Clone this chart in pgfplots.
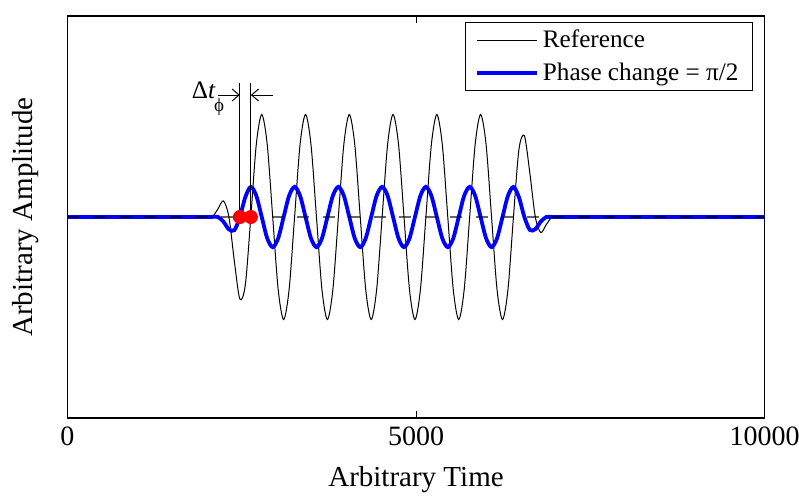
\documentclass[border=0pt]{standalone}
\usepackage{fontspec}
\setmainfont{Liberation Serif}
\usepackage{pgfplots}
\pgfplotsset{compat=1.18}
\usetikzlibrary{arrows.meta}

\begin{document}
\begin{tikzpicture}
\begin{axis}[
  at={(0,0)}, anchor=south west,
  scale only axis, width=348.5pt, height=201pt,
  xmin=0, xmax=10000, ymin=-1, ymax=1,
  xtick={0,5000,10000}, ytick=\empty,
  scaled x ticks=false,
  tick align=inside, major tick length=3.5pt,
  axis line style={line width=0.6pt},
  every tick/.style={black, line width=0.5pt},
  /pgf/number format/assume math mode=true,
  /pgf/number format/set thousands separator={},
  ticklabel style={font=\fontsize{14}{16}\selectfont},
  xticklabel style={yshift=-1pt},
  label style={font=\fontsize{14.5}{16}\selectfont},
  xlabel={Arbitrary Time}, ylabel={Arbitrary Amplitude},
  xlabel style={at={(axis description cs:0.5,-0.1716)}, anchor=base},
  ylabel style={at={(axis description cs:-0.0495,0.5)}, anchor=base},
  legend style={at={(1,1)}, anchor=north east, xshift=-5.75pt, yshift=-3pt,
    draw=black, line width=0.5pt, font=\fontsize{12.6}{14}\selectfont,
    inner xsep=5pt, inner ysep=1.8pt, row sep=2pt, nodes={inner sep=2pt},
    cells={anchor=west}},
  legend image code/.code={\draw[#1] (0pt,0pt) -- (30pt,0pt);},
]
% reference burst
\addplot[black, line width=0.5pt, smooth] coordinates {
(0,0) (1923.5,0) (2002,0)
(2080.5,0.0023) (2159,0.0404) (2237.5,0.0801) (2316,0) (2394.5,-0.2220) (2473,-0.4083) (2551.5,-0.3371) (2630,0)
(2708.5,0.3606) (2787,0.51) (2865.5,0.3606) (2944,0) (3022.5,-0.3606) (3101,-0.51) (3179.5,-0.3606) (3258,0)
(3336.5,0.3606) (3415,0.51) (3493.5,0.3606) (3572,0) (3650.5,-0.3606) (3729,-0.51) (3807.5,-0.3606) (3886,0)
(3964.5,0.3606) (4043,0.51) (4121.5,0.3606) (4200,0) (4278.5,-0.3606) (4357,-0.51) (4435.5,-0.3606) (4514,0)
(4592.5,0.3606) (4671,0.51) (4749.5,0.3606) (4828,0) (4906.5,-0.3606) (4985,-0.51) (5063.5,-0.3606) (5142,0)
(5220.5,0.3606) (5299,0.51) (5377.5,0.3606) (5456,0) (5534.5,-0.3606) (5613,-0.51) (5691.5,-0.3606) (5770,0)
(5848.5,0.3606) (5927,0.51) (6005.5,0.3606) (6084,0) (6162.5,-0.3606) (6241,-0.51) (6319.5,-0.3606) (6398,0)
(6476.5,0.3353) (6555,0.4038) (6633.5,0.2183) (6712,0) (6790.5,-0.0771) (6869,-0.0376) (6947.5,-0.0017)
(7026,0) (7104.5,0) (10000,0)
};
\addlegendentry{Reference}
% phase shifted burst
\addplot[blue, line width=1.9pt, smooth] coordinates {
(0,0) (1923.5,0) (2002,0)
(2080.5,0.0007) (2159,0) (2237.5,-0.0236) (2316,-0.0617) (2394.5,-0.0653) (2473,0) (2551.5,0.0992) (2630,0.1496)
(2708.5,0.1061) (2787,0) (2865.5,-0.1061) (2944,-0.15) (3022.5,-0.1061) (3101,0) (3179.5,0.1061) (3258,0.15)
(3336.5,0.1061) (3415,0) (3493.5,-0.1061) (3572,-0.15) (3650.5,-0.1061) (3729,0) (3807.5,0.1061) (3886,0.15)
(3964.5,0.1061) (4043,0) (4121.5,-0.1061) (4200,-0.15) (4278.5,-0.1061) (4357,0) (4435.5,0.1061) (4514,0.15)
(4592.5,0.1061) (4671,0) (4749.5,-0.1061) (4828,-0.15) (4906.5,-0.1061) (4985,0) (5063.5,0.1061) (5142,0.15)
(5220.5,0.1061) (5299,0) (5377.5,-0.1061) (5456,-0.15) (5534.5,-0.1061) (5613,0) (5691.5,0.1061) (5770,0.15)
(5848.5,0.1061) (5927,0) (6005.5,-0.1061) (6084,-0.15) (6162.5,-0.1061) (6241,0) (6319.5,0.1061) (6398,0.1494)
(6476.5,0.0986) (6555,0) (6633.5,-0.0642) (6712,-0.0602) (6790.5,-0.0227) (6869,0) (6947.5,0.0005)
(7026,0) (7104.5,0) (10000,0)
};
\addlegendentry{Phase change = π/2}
% zero line
\addplot[forget plot, black, opacity=0.6, line width=0.75pt, dash pattern=on 6pt off 6.75pt] coordinates {(0,0) (10000,0)};
% zero crossings
\addplot[forget plot, only marks, mark=*, mark size=3.3pt, red, mark options={fill=red, draw=red}] coordinates {(2473,0) (2630,0)};
% delta t annotation
\draw[black, line width=0.5pt] (axis cs:2473,0) -- (axis cs:2473,0.667);
\draw[black, line width=0.5pt] (axis cs:2630,0) -- (axis cs:2630,0.667);
\draw[black, line width=0.5pt, -{Straight Barb[length=3.5pt,width=6pt]}] (axis cs:2160,0.607) -- (axis cs:2473,0.607);
\draw[black, line width=0.5pt, -{Straight Barb[length=3.5pt,width=6pt]}] (axis cs:2949,0.607) -- (axis cs:2630,0.607);
\node[anchor=base east, inner sep=0pt, font=\fontsize{12.6}{14}\selectfont] at (axis cs:2131,0.592) {Δ\textit{t}};
\node[inner sep=0pt, font=\fontsize{9.5}{10}\selectfont] at (axis cs:2175,0.55) {ϕ};
\end{axis}
\pgfresetboundingbox
\useasboundingbox (-33.75pt,-38.5pt) rectangle (365.75pt,209pt);
\end{tikzpicture}
\end{document}
